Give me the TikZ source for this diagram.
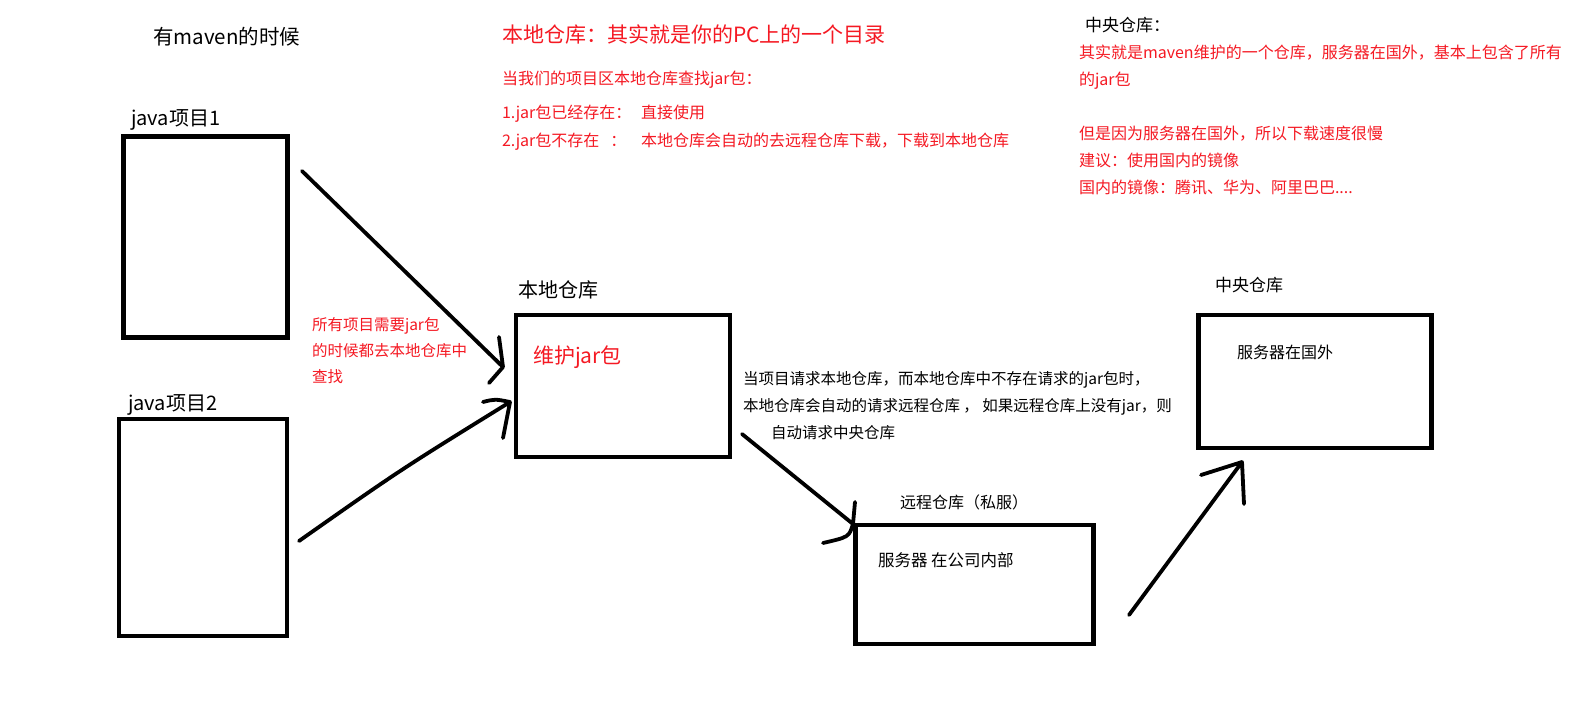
\documentclass[tikz,border=0pt]{standalone}
\usepackage{fontspec}
\setmainfont{Noto Sans CJK SC}
\usetikzlibrary{positioning}
\definecolor{hint}{RGB}{245,25,35}

\begin{document}
\begin{tikzpicture}[x=1pt, y=-1pt,
  every node/.style={inner sep=0pt, outer sep=0pt},
  txt/.style={font=\fontsize{#1}{27}\selectfont, anchor=base west, align=left},
  note/.style={txt=#1, text=hint},
  box/.style={draw, line width=4.5pt, anchor=north west},
  pen/.style={line width=3.8pt, line cap=round, line join=round}
]
\fill[white] (0,0) rectangle (1578,709);
\useasboundingbox (0,0) rectangle (1578,709);

% headings and notes (multi-line nodes sit on the baseline of their last line)
\node[txt=20.5] (title) at (153,44.8) {有maven的时候};
\node[note=21] (localdef) at (502,42.5) {本地仓库：其实就是你的PC上的一个目录};
\node[note=16] (lookup) at (502,84) {当我们的项目区本地仓库查找jar包：};
\node[note=16] (case1) at (502,118) {\makebox[139pt][l]{1.jar包已经存在：}直接使用};
\node[note=16] (case2) at (502,146) {\makebox[139pt][l]{2.jar包不存在\hspace{11pt}：}本地仓库会自动的去远程仓库下载，下载到本地仓库};
\node[txt=17] (centraldef) at (1085,31.5) {中央仓库：};
\node[note=16] (centralnote) at (1079,193) {其实就是maven维护的一个仓库，服务器在国外，基本上包含了所有\\的jar包\\~\\但是因为服务器在国外，所以下载速度很慢\\建议：使用国内的镜像\\国内的镜像：腾讯、华为、阿里巴巴....};

% boxes
\node[box, minimum width=164pt, minimum height=201pt] (proj1) at (123.7,136.7) {};
\node[box, minimum width=168pt, minimum height=217pt] (proj2) at (119,419) {};
\node[box, minimum width=214pt, minimum height=142pt] (local) at (516,315) {};
\node[box, minimum width=238pt, minimum height=119pt] (remote) at (855.5,525) {};
\node[box, minimum width=233pt, minimum height=133pt] (central) at (1198.7,315) {};

\node[txt=20] (proj1lbl) at (131,125.6) {java项目1};
\node[txt=20] (proj2lbl) at (128,410.6) {java项目2};
\node[txt=20] (locallbl) at (518,297.6) {本地仓库};
\node[note=21] (localin) at (533,363) {维护jar包};
\node[txt=17] (centrallbl) at (1215,291.5) {中央仓库};
\node[txt=16] (centralin) at (1237,358) {服务器在国外};
\node[txt=16] (remotelbl) at (900,508) {远程仓库（私服）};
\node[txt=16.5] (remotein) at (878,566) {服务器 在公司内部};
\node[note=15.5] (searchnote) at (312,382) {所有项目需要jar包\\[-1pt]的时候都去本地仓库中\\[-1pt]查找};
\node[txt=15.5] (missnote) at (743,438) {当项目请求本地仓库，而本地仓库中不存在请求的jar包时，\\本地仓库会自动的请求远程仓库 ， 如果远程仓库上没有jar，则\\\hspace*{28pt}自动请求中央仓库};

% hand drawn arrows
\coordinate (a1s) at (302,171);  \coordinate (a1e) at (503,367);
\coordinate (a2s) at (299,541);  \coordinate (a2e) at (510,402);
\coordinate (a3s) at (742,434);  \coordinate (a3e) at (853,524);
\coordinate (a4s) at (1129,615); \coordinate (a4e) at (1242,462);

\draw[pen] (a1s) -- (a1e) -- ++(-4,-30) (a1e) -- ++(-14,16);
\draw[pen] (a2s) .. controls (400,470) .. (a2e) -- ++(-7,36) (a2e) .. controls (495,399) .. (483,402);
\draw[pen] (a3s) -- (a3e) -- ++(2,-22) (a3e) .. controls (849,537) .. (823,543);
\draw[pen] (a4s) -- (a4e) -- ++(-41,13) (a4e) -- ++(2,42);
\end{tikzpicture}
\end{document}
